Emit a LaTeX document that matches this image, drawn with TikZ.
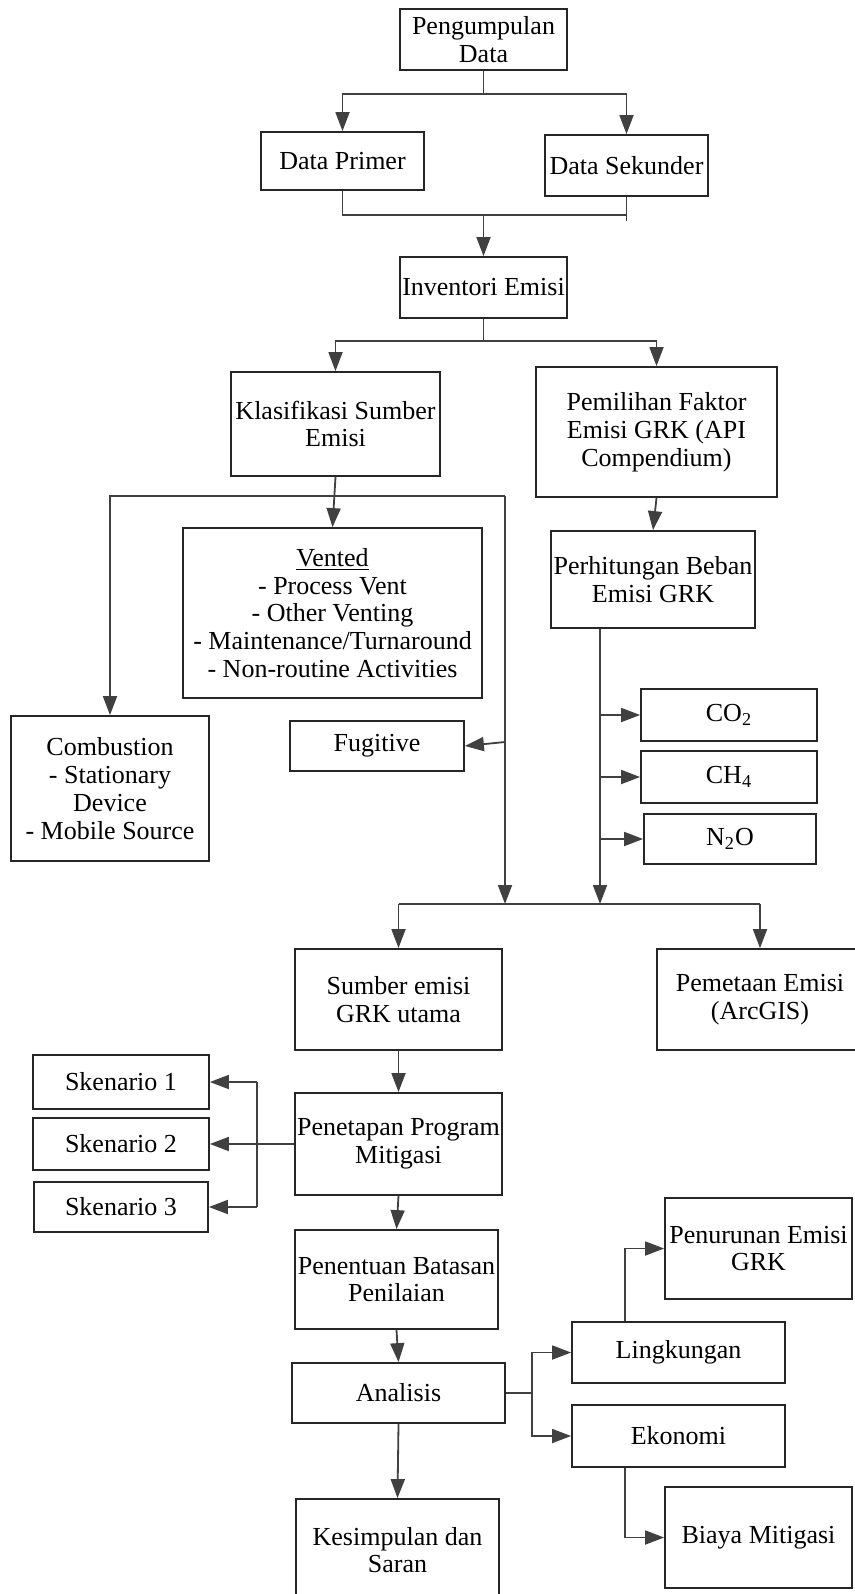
\documentclass[tikz,border=0pt]{standalone}
\usepackage{fontspec}
\setmainfont{Liberation Serif}
\usetikzlibrary{arrows.meta}
\tikzset{
  bx/.style 2 args={draw=black!85, line width=0.9pt, align=center, inner sep=1pt,
    minimum width=#1*0.5pt, minimum height=#2*0.5pt,
    font=\fontsize{13}{13.9}\selectfont},
  ln/.style={draw=black!75, line width=0.9pt},
  arr/.style={ln, -{Triangle[length=9.5pt,width=7pt]}}
}
\begin{document}
\begin{tikzpicture}[x=0.5pt,y=-0.5pt]
\useasboundingbox (0,0) rectangle (855,1594);
\fill[white] (0,0) rectangle (855,1594);
\clip (0,0) rectangle (855,1594);
% nodes
\node[bx={167}{61}] (pd) at (483.5,39.5) {Pengumpulan\\Data};
\node[bx={163}{58}] (dp) at (342.5,161) {Data Primer};
\node[bx={163}{61}] (ds) at (626.5,165.5) {Data Sekunder};
\node[bx={167}{61}] (ie) at (483.5,287.5) {Inventori Emisi};
\node[bx={209}{104}] (ks) at (335.5,424) {Klasifikasi Sumber\\Emisi};
\node[bx={241}{130}] (pf) at (656.5,432) {Pemilihan Faktor\\Emisi GRK (API\\Compendium)};
\node[bx={299}{170}] (vt) at (332.5,613) {\underline{Vented}\\- Process Vent\\- Other Venting\\- Maintenance/Turnaround\\- Non-routine Activities};
\node[bx={198}{145}] (cb) at (110,788.5) {Combustion\\- Stationary\\Device\\- Mobile Source};
\node[bx={174}{50}] (fg) at (377,746) {Fugitive};
\node[bx={204}{97}] (pb) at (653,579.5) {Perhitungan Beban\\Emisi GRK};
\node[bx={176}{52}] (co2) at (729,715) {CO\textsubscript{2}};
\node[bx={176}{52}] (ch4) at (729,777) {CH\textsubscript{4}};
\node[bx={172}{50}] (n2o) at (730,839) {N\textsubscript{2}O};
\node[bx={207}{101}] (se) at (398.5,999.5) {Sumber emisi\\GRK utama};
\node[bx={206}{101}] (pe) at (760,999.5) {Pemetaan Emisi\\(ArcGIS)};
\node[bx={207}{102}] (pp) at (398.5,1144) {Penetapan Program\\Mitigasi};
\node[bx={176}{54}] (s1) at (121,1082) {Skenario 1};
\node[bx={176}{52}] (s2) at (121,1144) {Skenario 2};
\node[bx={174}{50}] (s3) at (121,1207) {Skenario 3};
\node[bx={203}{99}] (pn) at (396.5,1279.5) {Penentuan Batasan\\Penilaian};
\node[bx={213}{60}] (an) at (398.5,1393) {Analisis};
\node[bx={213}{61}] (lk) at (678.5,1352.5) {Lingkungan};
\node[bx={213}{62}] (ek) at (678.5,1436) {Ekonomi};
\node[bx={187}{101}] (pg) at (758.5,1248.5) {Penurunan Emisi\\GRK};
\node[bx={187}{101}] (bm) at (758.5,1537.5) {Biaya Mitigasi};
\node[bx={203}{102}] (kd) at (397.5,1550) {Kesimpulan dan\\Saran};
% junction coordinates
\coordinate (j1) at (483.5,94);
\coordinate (j2) at (483.5,215);
\coordinate (j3) at (483.5,341);
\coordinate (kL) at (110,496);
\coordinate (kR) at (505,496);
\coordinate (fj) at (505,742);
\coordinate (m1) at (505,904);
\coordinate (m2) at (600,904);
\coordinate (mL) at (398.5,904);
\coordinate (mR) at (760,904);
\coordinate (sa) at (257,1082);
\coordinate (sb) at (257,1207);
\coordinate (aj) at (532,1393);
\coordinate (lx) at (625,1249);
\coordinate (ex) at (625,1538);
\coordinate (dsx) at (626.5,221);
% connectors
\draw[ln] (pd.south) -- (j1);
\draw[arr] (j1) -| (dp.north);
\draw[arr] (j1) -| (ds.north);
\draw[ln] (dp.south) |- (j2);
\draw[ln] (ds.south) |- (j2);
\draw[ln] (ds.south) -- (dsx);
\draw[arr] (j2) -- (ie.north);
\draw[ln] (ie.south) -- (j3);
\draw[arr] (j3) -| (ks.north);
\draw[arr] (j3) -| (pf.north);
\draw[arr] (ks.south) -- (vt.north);
\draw[arr] (kR) -- (kL) -- (cb.north);
\draw[arr] (kR) -- (m1);
\draw[arr] (fj) -- (fg.east);
\draw[arr] (pf.south) -- (pb.north);
\draw[arr] (pb.south -| m2) -- (m2);
\draw[arr] (m2 |- co2.west) -- (co2.west);
\draw[arr] (m2 |- ch4.west) -- (ch4.west);
\draw[arr] (m2 |- n2o.west) -- (n2o.west);
\draw[ln] (mL) -- (mR);
\draw[arr] (mL) -- (se.north);
\draw[arr] (mR) -- (pe.north);
\draw[arr] (se.south) -- (pp.north);
\draw[arr] (pp.west) -- (s2.east);
\draw[ln] (sa) -- (sb);
\draw[arr] (sa) -- (s1.east);
\draw[arr] (sb) -- (s3.east);
\draw[arr] (pp.south) -- (pn.north);
\draw[arr] (pn.south) -- (an.north);
\draw[ln] (an.east) -- (aj);
\draw[arr] (aj) |- (lk.west);
\draw[arr] (aj) |- (ek.west);
\draw[arr] (lk.north -| lx) |- (pg.west);
\draw[arr] (ek.south -| ex) |- (bm.west);
\draw[arr] (an.south) -- (kd.north);
\end{tikzpicture}
\end{document}
